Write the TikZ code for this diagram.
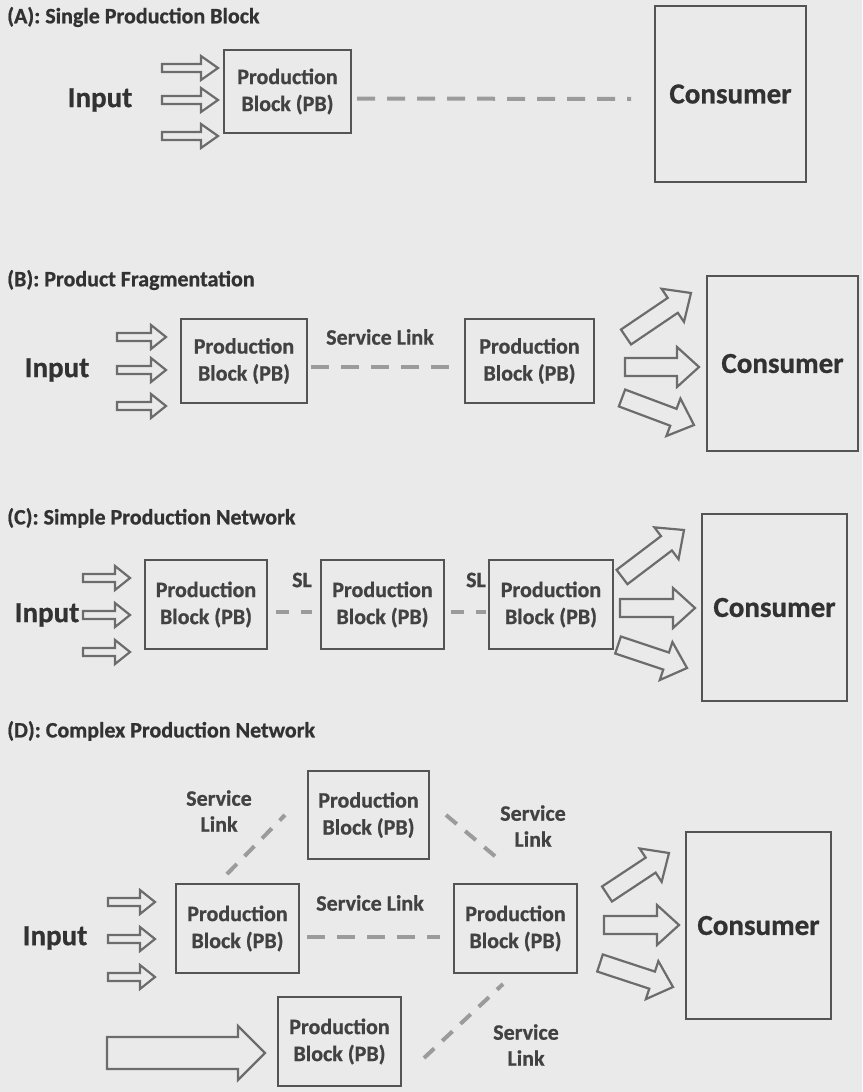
\documentclass[tikz,border=0pt]{standalone}
\usepackage{fontspec}
\setmainfont{Carlito}[BoldFont={Carlito Bold}, BoldFeatures={FakeBold=0.8}]
\usetikzlibrary{calc}

\definecolor{paper}{RGB}{234,234,234}
\definecolor{edge}{RGB}{84,84,84}
\definecolor{arrowc}{RGB}{108,108,108}
\definecolor{ink}{RGB}{50,50,50}
\definecolor{boxink}{RGB}{66,66,66}
\definecolor{linkc}{RGB}{155,155,155}

% Hollow block arrow from a tail coordinate to a tip coordinate.
% #1 tail, #2 tip, #3 shaft half-width, #4 head half-width, #5 head length
\newcommand\hollowarrow[5]{%
  \coordinate (ha-neck) at ($(#2)!#5!(#1)$);
  \draw[blockarrow]
    ($(#1)!#3!90:(#2)$) -- ($(ha-neck)!#3!-90:(#1)$) -- ($(ha-neck)!#4!-90:(#1)$)
    -- (#2) -- ($(ha-neck)!#4!90:(#1)$) -- ($(ha-neck)!#3!90:(#1)$)
    -- ($(#1)!#3!-90:(#2)$) -- cycle;
}

\begin{document}
\begin{tikzpicture}[x=1pt,y=-1pt,
  every node/.style={inner sep=0pt},
  title/.style={anchor=west, text=ink, font=\bfseries\fontsize{22}{26}\selectfont},
  pbbox/.style={draw=edge, line width=2pt, align=center, text=boxink,
    font=\bfseries\fontsize{22}{27}\selectfont},
  consumer/.style={draw=edge, line width=2pt, text=ink,
    font=\bfseries\fontsize{29}{34}\selectfont},
  inlabel/.style={text=ink, font=\bfseries\fontsize{29}{34}\selectfont},
  linklabel/.style={text=boxink, align=center, font=\bfseries\fontsize{22}{26}\selectfont},
  sl/.style={draw=linkc, line width=4pt, dash pattern=on 18pt off 12pt},
  blockarrow/.style={draw=arrowc, line width=2.2pt, line join=miter},
]
\fill[paper] (0,0) rectangle (862,1092);
\useasboundingbox (0,0) rectangle (862,1092);

% ---------- (A) ----------
\node[title] (tA) at (7,17) {(A): Single Production Block};
\node[pbbox, minimum width=127pt, minimum height=83pt] (pbA) at (287.5,91.5) {Production\\Block (PB)};
\node[consumer, minimum width=151pt, minimum height=176pt] (cA) at (730.5,94) {Consumer};
\node[inlabel] (inA) at (100,100) {Input};
\coordinate (aA1s) at (162,68);  \coordinate (aA1e) at (218,68);
\coordinate (aA2s) at (162,100); \coordinate (aA2e) at (218,100);
\coordinate (aA3s) at (162,136); \coordinate (aA3e) at (218,136);
\hollowarrow{aA1s}{aA1e}{4pt}{12pt}{17pt}
\hollowarrow{aA2s}{aA2e}{4pt}{12pt}{17pt}
\hollowarrow{aA3s}{aA3e}{4pt}{12pt}{17pt}
\draw[sl] ([shift={(5,7)}]pbA.east) -- ([shift={(-23,5)}]cA.west);

% ---------- (B) ----------
\node[title] (tB) at (7,280) {(B): Product Fragmentation};
\node[pbbox, minimum width=126pt, minimum height=84pt] (pbB1) at (244,361) {Production\\Block (PB)};
\node[pbbox, minimum width=129pt, minimum height=84pt] (pbB2) at (529.5,361) {Production\\Block (PB)};
\node[consumer, minimum width=151pt, minimum height=175pt] (cB) at (782.5,363.5) {Consumer};
\node[inlabel] (inB) at (57,370) {Input};
\coordinate (aB1s) at (117,337); \coordinate (aB1e) at (166,337);
\coordinate (aB2s) at (117,370); \coordinate (aB2e) at (166,370);
\coordinate (aB3s) at (117,406); \coordinate (aB3e) at (166,406);
\hollowarrow{aB1s}{aB1e}{4pt}{12pt}{15pt}
\hollowarrow{aB2s}{aB2e}{4pt}{12pt}{15pt}
\hollowarrow{aB3s}{aB3e}{4pt}{12pt}{15pt}
\draw[sl] ([shift={(3,6)}]pbB1.east) -- ([shift={(-9,6)}]pbB2.west);
\node[linklabel] (slB) at (380,337) {Service Link};
\coordinate (oB1s) at (626,337); \coordinate (oB1e) at (691,293);
\coordinate (oB2s) at (625,367); \coordinate (oB2e) at (699,367);
\coordinate (oB3s) at (622,398); \coordinate (oB3e) at (694,425);
\hollowarrow{oB1s}{oB1e}{9pt}{20pt}{22pt}
\hollowarrow{oB2s}{oB2e}{9pt}{20pt}{22pt}
\hollowarrow{oB3s}{oB3e}{9pt}{20pt}{22pt}

% ---------- (C) ----------
\node[title] (tC) at (7,518) {(C): Simple Production Network};
\node[pbbox, minimum width=122pt, minimum height=89pt] (pbC1) at (206,604.5) {Production\\Block (PB)};
\node[pbbox, minimum width=123pt, minimum height=89pt] (pbC2) at (382.5,604.5) {Production\\Block (PB)};
\node[pbbox, minimum width=124pt, minimum height=89pt] (pbC3) at (551,604.5) {Production\\Block (PB)};
\node[consumer, minimum width=145pt, minimum height=187pt] (cC) at (774.5,607.5) {Consumer};
\node[inlabel] (inC) at (47,615) {Input};
\coordinate (aC1s) at (83,578); \coordinate (aC1e) at (130,578);
\coordinate (aC2s) at (83,615); \coordinate (aC2e) at (130,615);
\coordinate (aC3s) at (83,652); \coordinate (aC3e) at (130,652);
\hollowarrow{aC1s}{aC1e}{4pt}{12pt}{15pt}
\hollowarrow{aC2s}{aC2e}{4pt}{12pt}{15pt}
\hollowarrow{aC3s}{aC3e}{4pt}{12pt}{15pt}
\draw[sl, dash pattern=on 13pt off 12pt] ([shift={(8,7.5)}]pbC1.east) -- ([shift={(-8,7.5)}]pbC2.west);
\draw[sl, dash pattern=on 13pt off 12pt] ([shift={(6,7.5)}]pbC2.east) -- ([shift={(-2,7.5)}]pbC3.west);
\node[linklabel] (slC1) at (302,580) {SL};
\node[linklabel] (slC2) at (476,580) {SL};
\coordinate (oC1s) at (622,577); \coordinate (oC1e) at (684,530);
\coordinate (oC2s) at (620,608); \coordinate (oC2e) at (695,608);
\coordinate (oC3s) at (618,645); \coordinate (oC3e) at (687,668);
\hollowarrow{oC1s}{oC1e}{9pt}{20pt}{22pt}
\hollowarrow{oC2s}{oC2e}{9pt}{20pt}{22pt}
\hollowarrow{oC3s}{oC3e}{9pt}{20pt}{22pt}

% ---------- (D) ----------
\node[title] (tD) at (7,731) {(D): Complex Production Network};
\node[pbbox, minimum width=121pt, minimum height=88pt] (pbDt) at (368.5,815) {Production\\Block (PB)};
\node[pbbox, minimum width=123pt, minimum height=89pt] (pbD1) at (237.5,928.5) {Production\\Block (PB)};
\node[pbbox, minimum width=123pt, minimum height=89pt] (pbD2) at (515.5,928.5) {Production\\Block (PB)};
\node[pbbox, minimum width=123pt, minimum height=89pt] (pbDb) at (339.5,1041.5) {Production\\Block (PB)};
\node[consumer, minimum width=145pt, minimum height=187pt] (cD) at (758.5,925.5) {Consumer};
\node[inlabel] (inD) at (55,938) {Input};
\coordinate (aD1s) at (108,902); \coordinate (aD1e) at (155,902);
\coordinate (aD2s) at (108,939); \coordinate (aD2e) at (155,939);
\coordinate (aD3s) at (108,977); \coordinate (aD3e) at (155,977);
\hollowarrow{aD1s}{aD1e}{4pt}{12pt}{15pt}
\hollowarrow{aD2s}{aD2e}{4pt}{12pt}{15pt}
\hollowarrow{aD3s}{aD3e}{4pt}{12pt}{15pt}
\coordinate (aDbs) at (107,1053); \coordinate (aDbe) at (265,1053);
\hollowarrow{aDbs}{aDbe}{16pt}{27pt}{27pt}
\draw[sl] ([shift={(7,8.5)}]pbD1.east) -- ([shift={(-13,8.5)}]pbD2.west);
\draw[sl, dash pattern=on 14pt off 11pt] ([shift={(-10.5,-9)}]pbD1.north) -- ([shift={(-22,0)}]pbDt.west);
\draw[sl, dash pattern=on 14pt off 11pt] ([shift={(16,0)}]pbDt.east) -- ([shift={(-19.5,-26)}]pbD2.north);
\draw[sl, dash pattern=on 14pt off 11pt] ([shift={(22,16.5)}]pbDb.east) -- ([shift={(-12.5,10)}]pbD2.south);
\node[linklabel] (slDl) at (219,811) {Service\\Link};
\node[linklabel] (slDr) at (533,826) {Service\\Link};
\node[linklabel] (slDm) at (370,903) {Service Link};
\node[linklabel] (slDb) at (526,1045) {Service\\Link};
\coordinate (oD1s) at (607,894); \coordinate (oD1e) at (669,853);
\coordinate (oD2s) at (604,925); \coordinate (oD2e) at (679,925);
\coordinate (oD3s) at (600,963); \coordinate (oD3e) at (673,987);
\hollowarrow{oD1s}{oD1e}{9pt}{20pt}{22pt}
\hollowarrow{oD2s}{oD2e}{9pt}{20pt}{22pt}
\hollowarrow{oD3s}{oD3e}{9pt}{20pt}{22pt}
\end{tikzpicture}
\end{document}
